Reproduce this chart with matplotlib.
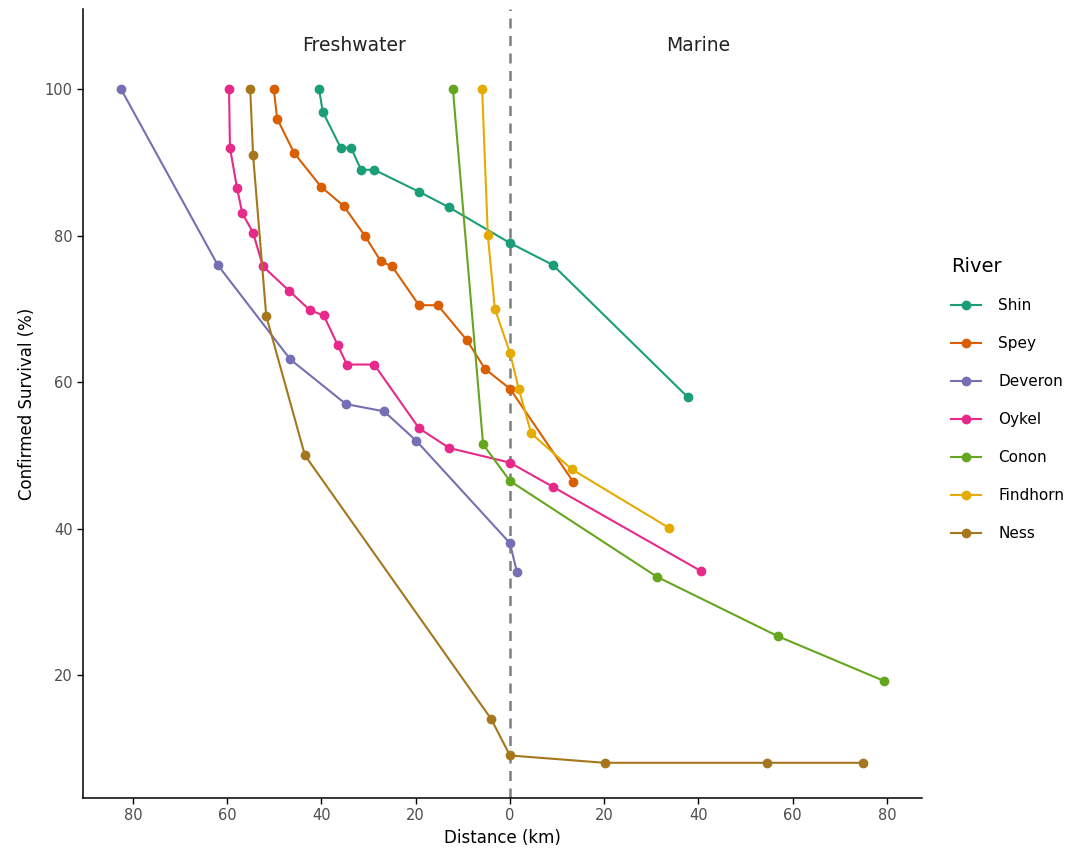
import matplotlib
matplotlib.use("Agg")
import matplotlib.pyplot as plt
from matplotlib.ticker import FuncFormatter

# distance in km: freshwater is negative (left of the estuary), marine positive
rivers = ["Shin", "Spey", "Deveron", "Oykel", "Conon", "Findhorn", "Ness"]
colors = ["#1B9E77", "#D95F02", "#7570B3", "#E7298A", "#66A61E", "#E6AB02", "#A6761D"]

shin_x = [-40.5, -39.7, -35.9, -33.7, -31.6, -28.8, -19.3, -13.0, 0, 9.1, 37.8]
shin_y = [100, 96.9, 92.0, 92.0, 89.0, 89.0, 86.0, 83.9, 79.0, 76.0, 57.9]

spey_x = [-50.1, -49.4, -45.8, -40.1, -35.2, -30.8, -27.4, -25.0, -19.3, -15.3, -9.1, -5.3, 0, 13.4]
spey_y = [100, 96.0, 91.3, 86.7, 84.0, 80.0, 76.5, 75.8, 70.5, 70.5, 65.7, 61.8, 59.1, 46.4]

deveron_x = [-82.5, -62.0, -46.6, -34.8, -26.7, -19.9, 0, 1.5]
deveron_y = [100, 76.0, 63.1, 57.0, 56.0, 52.0, 38.0, 34.0]

oykel_x = [-59.6, -59.4, -57.9, -56.8, -54.5, -52.4, -46.9, -42.4, -39.5, -36.5, -34.6, -28.8,
           -19.3, -12.9, 0, 9.1, 40.5]
oykel_y = [100, 92.0, 86.5, 83.1, 80.4, 75.8, 72.5, 69.8, 69.1, 65.0, 62.4, 62.4,
           53.7, 51.0, 49.0, 45.7, 34.2]

conon_x = [-12.1, -5.7, 0, 31.2, 56.8, 79.3]
conon_y = [100, 51.5, 46.5, 33.4, 25.3, 19.2]

findhorn_x = [-5.9, -4.7, -3.2, 0, 1.9, 4.5, 13.1, 33.7]
findhorn_y = [100, 80.1, 70.0, 64.0, 59.0, 53.0, 48.1, 40.1]

ness_x = [-55.1, -54.5, -51.7, -43.5, -4.0, 0, 20.1, 54.5, 74.9]
ness_y = [100, 91.0, 69.0, 50.0, 14.0, 9.0, 8.0, 8.0, 8.0]

series = [(shin_x, shin_y), (spey_x, spey_y), (deveron_x, deveron_y), (oykel_x, oykel_y),
          (conon_x, conon_y), (findhorn_x, findhorn_y), (ness_x, ness_y)]

fig = plt.figure(figsize=(10.91, 8.58), dpi=100)
ax = fig.add_axes([0.076, 0.070, 0.769, 0.919])

ax.axvline(0, color="#7F7F7F", lw=1.8, ls=(0, (4, 3)), zorder=1)

for name, col, (xs, ys) in zip(rivers, colors, series):
    ax.plot(xs, ys, color=col, lw=1.5, marker="o", ms=6, label=name, zorder=3)

ax.text(-33, 106, "Freshwater", ha="center", va="center", fontsize=13.5, color="#222222")
ax.text(40, 106, "Marine", ha="center", va="center", fontsize=13.5, color="#222222")

ax.set_xlim(-90.6, 87.4)
ax.set_ylim(3.2, 110.9)
ax.set_xticks([-80, -60, -40, -20, 0, 20, 40, 60, 80])
ax.set_yticks([20, 40, 60, 80, 100])
ax.xaxis.set_major_formatter(FuncFormatter(lambda v, p: f"{abs(v):.0f}"))
ax.tick_params(labelsize=10.5, labelcolor="#4D4D4D", length=4, width=1, direction="out")

for side in ["top", "right"]:
    ax.spines[side].set_visible(False)
for side in ["left", "bottom"]:
    ax.spines[side].set_linewidth(1.1)

ax.set_xlabel("Distance (km)", fontsize=12, labelpad=4)
ax.set_ylabel("Confirmed Survival (%)", fontsize=12, labelpad=6)

leg = ax.legend(title="River", loc="upper left", bbox_to_anchor=(0.859, 0.717),
                bbox_transform=fig.transFigure, frameon=False, fontsize=11,
                title_fontsize=14, labelspacing=1.5, handlelength=2.0, handletextpad=1.1)
leg._legend_box.align = "left"

fig.savefig("out.png", dpi=100)
